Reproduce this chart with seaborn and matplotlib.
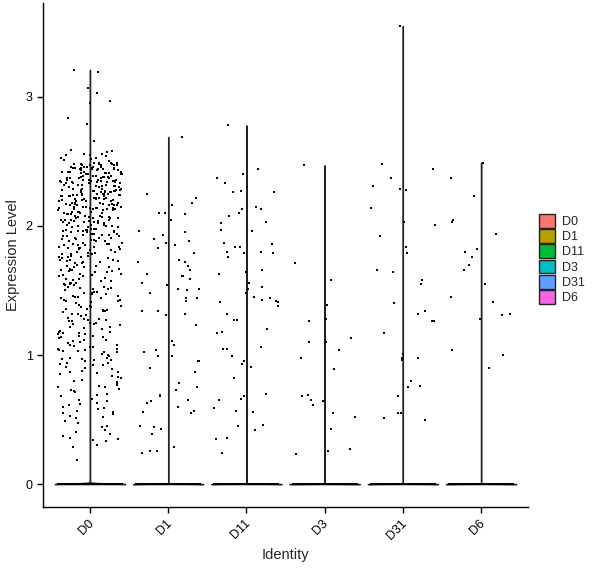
import numpy as np
import pandas as pd
import matplotlib
matplotlib.use("Agg")
import matplotlib.pyplot as plt
import matplotlib.transforms as mtransforms
import seaborn as sns

# identities and their colours (ggplot hue order)
identities = ["D0", "D1", "D11", "D3", "D31", "D6"]
colors = ["#F8766D", "#B79F00", "#00BA38", "#00BFC4", "#619CFF", "#F564E3"]

# number of cells with zero expression in each identity (estimated)
n_zero = [1800, 1500, 1500, 1200, 1400, 1300]

# non-zero expression values
d0_vals = [
    3.21, 3.19, 3.07, 3.03, 2.97, 2.95, 2.84, 2.79, 2.66, 2.59,
    2.58, 2.56, 2.55, 2.57, 2.54, 2.53, 2.52, 2.55, 2.51, 2.53, 2.50, 2.56,
    2.49, 2.48, 2.47, 2.47, 2.46, 2.45, 2.45, 2.44, 2.43, 2.42, 2.41, 2.40,
    2.49, 2.46, 2.44, 2.42, 2.41, 2.48, 2.45, 2.43, 2.40, 2.47, 2.44, 2.42,
    2.49, 2.46, 2.41, 2.43, 2.45, 2.48, 2.40, 2.44, 2.47, 2.42, 2.46, 2.41,
    2.43, 2.45, 2.48, 2.49, 2.40, 2.44, 2.46, 2.42, 2.47,
    2.39, 2.38, 2.37, 2.36, 2.35, 2.34, 2.33, 2.32, 2.31, 2.30, 2.38, 2.36,
    2.34, 2.32, 2.39, 2.37, 2.35, 2.33, 2.31, 2.36, 2.34, 2.38, 2.30, 2.35,
    2.33, 2.37, 2.39, 2.31, 2.36, 2.32, 2.34, 2.38, 2.35, 2.30, 2.37, 2.33,
    2.39, 2.36, 2.31, 2.34, 2.38, 2.32, 2.35, 2.37, 2.33,
    2.29, 2.28, 2.27, 2.26, 2.25, 2.24, 2.23, 2.22, 2.21, 2.20, 2.28, 2.26,
    2.24, 2.22, 2.29, 2.27, 2.25, 2.23, 2.21, 2.26, 2.24, 2.28, 2.20, 2.25,
    2.23, 2.27, 2.29, 2.21, 2.26, 2.22, 2.24, 2.28, 2.25, 2.20, 2.27, 2.23,
    2.29, 2.26, 2.21, 2.24, 2.28, 2.22, 2.25, 2.27, 2.23,
    2.19, 2.18, 2.17, 2.16, 2.15, 2.14, 2.13, 2.12, 2.11, 2.10, 2.18, 2.16,
    2.14, 2.12, 2.19, 2.17, 2.15, 2.13, 2.11, 2.16, 2.14, 2.18, 2.10, 2.15,
    2.13, 2.17, 2.19, 2.11, 2.16, 2.12, 2.14, 2.18, 2.15, 2.10, 2.17, 2.13,
    2.19, 2.16, 2.11, 2.14,
    2.09, 2.08, 2.07, 2.06, 2.05, 2.04, 2.03, 2.02, 2.01, 2.00, 2.08, 2.06,
    2.04, 2.02, 2.09, 2.07, 2.05, 2.03, 2.01, 2.06, 2.04, 2.08, 2.00, 2.05,
    2.03, 2.07, 2.09, 2.01, 2.06, 2.02, 2.04, 2.08, 2.05, 2.00, 2.07,
    1.99, 1.98, 1.97, 1.96, 1.95, 1.94, 1.93, 1.92, 1.91, 1.90, 1.98, 1.96,
    1.94, 1.92, 1.99, 1.97, 1.95, 1.93, 1.91, 1.96, 1.94, 1.98, 1.90, 1.95,
    1.93, 1.97, 1.99, 1.91, 1.96, 1.92,
    1.89, 1.88, 1.86, 1.85, 1.84, 1.83, 1.82, 1.81, 1.80, 1.87, 1.85, 1.83,
    1.89, 1.86, 1.84, 1.82, 1.88, 1.81, 1.87, 1.85, 1.83, 1.80, 1.86, 1.84, 1.88,
    1.79, 1.78, 1.77, 1.76, 1.75, 1.74, 1.73, 1.72, 1.71, 1.70, 1.78, 1.76,
    1.74, 1.72, 1.79, 1.77, 1.75, 1.73, 1.71, 1.76, 1.74, 1.78,
    1.69, 1.68, 1.67, 1.66, 1.65, 1.64, 1.63, 1.62, 1.61, 1.60, 1.68, 1.66,
    1.64, 1.62, 1.69, 1.67, 1.65, 1.63, 1.61, 1.66, 1.64, 1.68,
    1.59, 1.58, 1.57, 1.56, 1.55, 1.54, 1.53, 1.52, 1.51, 1.50, 1.58, 1.56,
    1.54, 1.52, 1.59, 1.57, 1.55, 1.53, 1.51, 1.56,
    1.49, 1.48, 1.47, 1.46, 1.45, 1.44, 1.43, 1.42, 1.41, 1.40, 1.48, 1.46,
    1.44, 1.42, 1.49, 1.47, 1.45, 1.43,
    1.39, 1.38, 1.37, 1.36, 1.35, 1.34, 1.33, 1.32, 1.31, 1.30, 1.38, 1.36,
    1.34, 1.32, 1.37, 1.35,
    1.29, 1.28, 1.27, 1.26, 1.25, 1.24, 1.23, 1.22, 1.21, 1.20, 1.28, 1.26,
    1.24, 1.22, 1.27, 1.25,
    1.19, 1.18, 1.17, 1.16, 1.15, 1.14, 1.13, 1.12, 1.11, 1.10, 1.18, 1.16,
    1.14, 1.12, 1.17, 1.15,
    1.09, 1.08, 1.07, 1.06, 1.05, 1.04, 1.03, 1.02, 1.01, 1.00, 1.08, 1.06,
    1.04, 1.02, 1.03, 1.05,
    0.99, 0.98, 0.97, 0.96, 0.95, 0.94, 0.93, 0.92, 0.91, 0.90, 0.98, 0.96,
    0.94, 0.92, 0.97,
    0.89, 0.88, 0.87, 0.86, 0.85, 0.84, 0.83, 0.82, 0.81, 0.80, 0.87,
    0.79, 0.78, 0.77, 0.76, 0.75, 0.75, 0.74, 0.73, 0.72, 0.71, 0.70,
    0.69, 0.68, 0.66, 0.65, 0.64, 0.63, 0.62, 0.61, 0.60,
    0.59, 0.58, 0.57, 0.56, 0.55, 0.54, 0.53, 0.52, 0.51,
    0.49, 0.47, 0.45, 0.44, 0.42, 0.40,
    0.39, 0.37, 0.36, 0.35, 0.34, 0.33,
    0.30, 0.29, 0.19,
]
d1_vals = [
    2.69, 2.25, 2.22, 2.18, 2.16, 2.10, 2.10, 2.09, 2.05, 1.96, 1.95, 1.93,
    1.90, 1.88, 1.85, 1.83, 1.87, 1.79, 1.74, 1.72, 1.72, 1.69, 1.66, 1.63,
    1.61, 1.59, 1.61, 1.56, 1.54, 1.51, 1.51, 1.50, 1.48, 1.44, 1.44, 1.42,
    1.34, 1.34, 1.32, 1.31, 1.23, 1.11, 1.08, 1.04, 1.02, 0.99, 0.99, 0.95,
    0.95, 0.90, 0.87, 0.78, 0.75, 0.73, 0.69, 0.68, 0.65, 0.64, 0.63, 0.60,
    0.57, 0.56, 0.55, 0.45, 0.44, 0.43, 0.39, 0.29, 0.26, 0.26, 0.24,
]
d11_vals = [
    2.78, 2.44, 2.40, 2.37, 2.33, 2.30, 2.27, 2.26, 2.26, 2.15, 2.13, 2.13,
    2.10, 2.08, 2.03, 2.02, 1.97, 1.96, 1.86, 1.87, 1.84, 1.84, 1.80, 1.80,
    1.79, 1.79, 1.76, 1.64, 1.66, 1.63, 1.56, 1.53, 1.51, 1.48, 1.45, 1.44,
    1.43, 1.42, 1.41, 1.41, 1.38, 1.32, 1.27, 1.27, 1.20, 1.18, 1.17, 1.05,
    1.06, 1.05, 0.99, 0.95, 0.93, 0.91, 0.82, 0.70, 0.68, 0.66, 0.65, 0.59,
    0.57, 0.56, 0.46, 0.45, 0.42, 0.36, 0.35, 0.24,
]
d3_vals = [
    2.47, 1.71, 1.58, 1.39, 1.28, 1.26, 1.13, 1.10, 1.10, 1.04, 0.98, 0.89,
    0.69, 0.68, 0.65, 0.64, 0.61, 0.55, 0.52, 0.43, 0.27, 0.26, 0.23,
]
d31_vals = [
    3.55, 2.48, 2.44, 2.37, 2.31, 2.29, 2.28, 2.14, 2.03, 2.01, 1.92, 1.84,
    1.79, 1.66, 1.64, 1.58, 1.55, 1.40, 1.34, 1.32, 1.26, 1.26, 1.17, 1.01,
    0.98, 0.98, 0.96, 0.80, 0.76, 0.75, 0.68, 0.55, 0.55, 0.51, 0.50,
]
d6_vals = [
    2.49, 2.37, 2.23, 2.05, 2.03, 1.94, 1.82, 1.80, 1.76, 1.70, 1.66, 1.55,
    1.45, 1.41, 1.32, 1.31, 1.28, 1.04, 1.00, 0.90,
]

nonzero = [d0_vals, d1_vals, d11_vals, d3_vals, d31_vals, d6_vals]

rows = []
for ident, nz, vals in zip(identities, n_zero, nonzero):
    for v in [0.0] * nz + list(vals):
        rows.append((ident, v))
df = pd.DataFrame(rows, columns=["Identity", "Expression"])

sns.set_style("white")
plt.rcParams["font.family"] = ["Liberation Sans", "DejaVu Sans"]

fig = plt.figure(figsize=(6.0, 5.68), dpi=100)
ax = fig.add_axes([0.0717, 0.1074, 0.8083, 0.8873])

sns.violinplot(
    data=df, x="Identity", y="Expression", hue="Identity",
    order=identities, hue_order=identities, palette=colors, saturation=1,
    density_norm="width", cut=0, inner=None, width=0.9,
    bw_method=0.006, gridsize=1200, linewidth=1.0, linecolor="#222222",
    legend=True, ax=ax,
)

np.random.seed(3)
sns.stripplot(
    data=df, x="Identity", y="Expression", order=identities,
    color="black", jitter=0.41, size=1.8, marker="s", linewidth=0,
    ax=ax,
)

ax.set_xlim(-0.6, 5.6)
ax.set_ylim(-0.1775, 3.7275)
ax.set_yticks([0, 1, 2, 3])
ax.set_xlabel("Identity", fontsize=10.5)
ax.set_ylabel("Expression Level", fontsize=10.5)

for side in ["top", "right"]:
    ax.spines[side].set_visible(False)
for side in ["left", "bottom"]:
    ax.spines[side].set_color("black")
    ax.spines[side].set_linewidth(1.0)

ax.tick_params(axis="both", length=4, width=1, color="black",
               labelsize=9, labelcolor="black", left=True, bottom=True)
shift = mtransforms.ScaledTranslation(6 / 100, 0, fig.dpi_scale_trans)
for lab in ax.get_xticklabels():
    lab.set_rotation(45)
    lab.set_ha("right")
    lab.set_va("top")
    lab.set_transform(lab.get_transform() + shift)

sns.move_legend(
    ax, "center left", bbox_to_anchor=(1.01, 0.492), title=None,
    frameon=False, fontsize=9, handlelength=1.3, handleheight=1.3,
    labelspacing=0.1, handletextpad=0.5, borderpad=0,
)

fig.savefig("out.png", dpi=100)
